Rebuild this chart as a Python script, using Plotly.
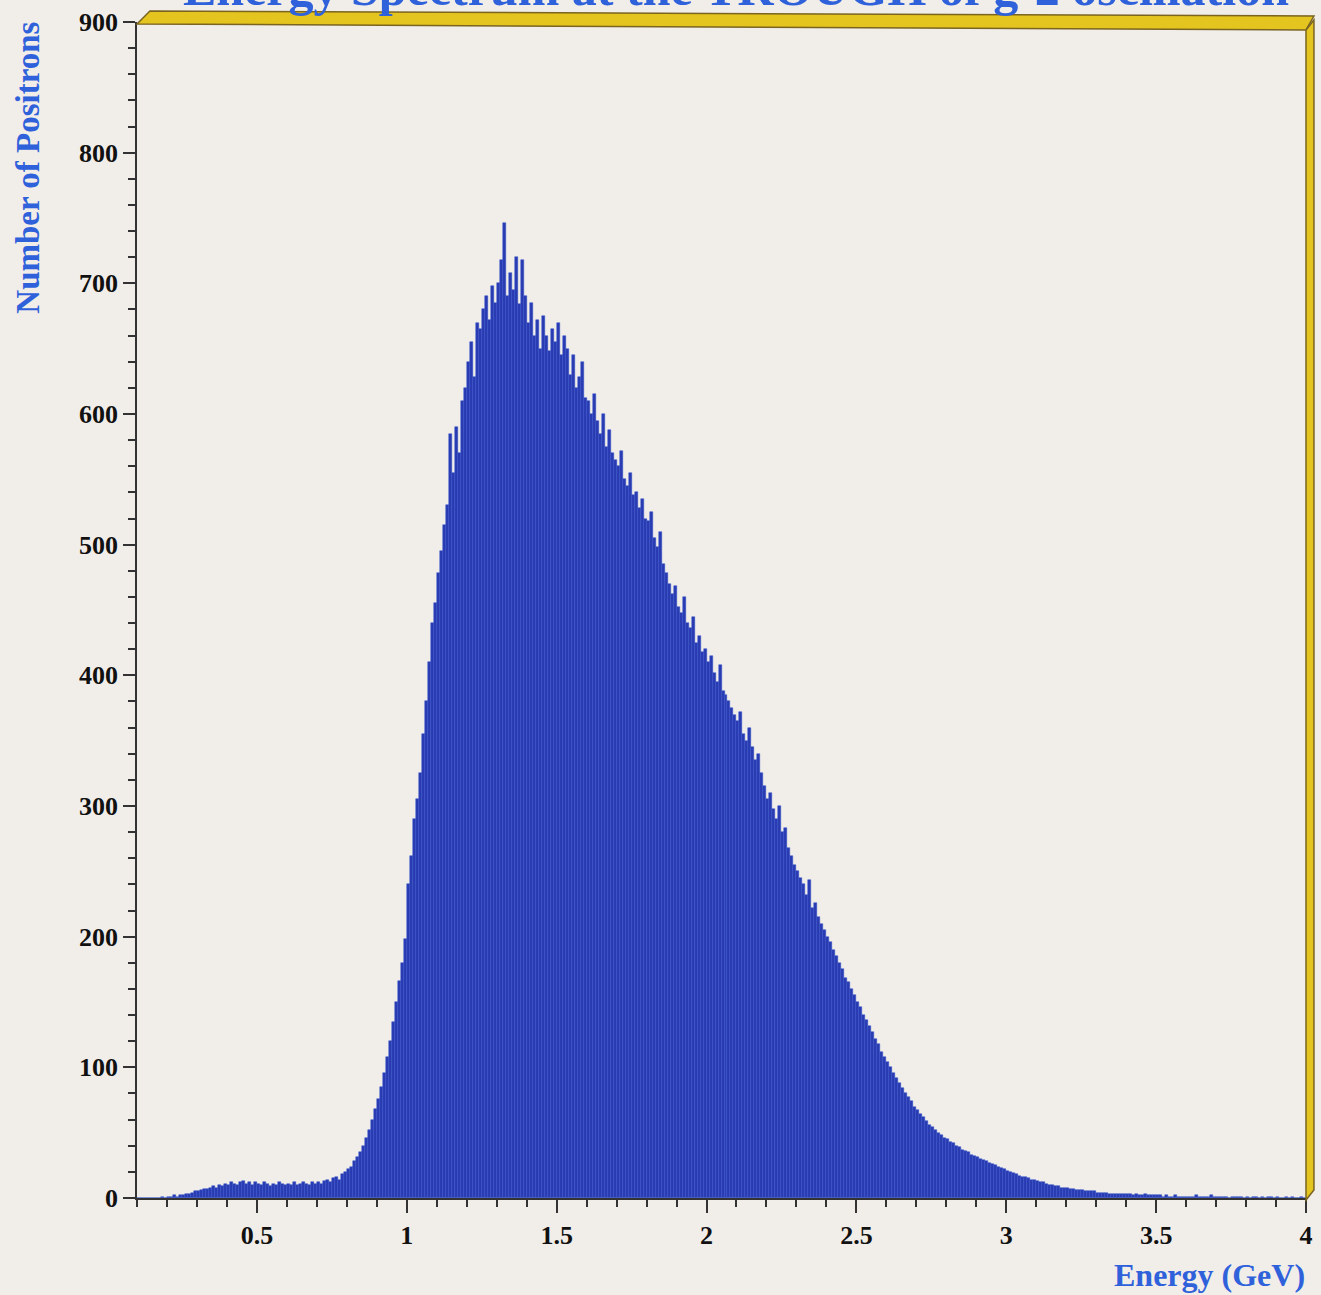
import plotly.graph_objects as go

# ---------------- data ----------------
bin_width = 0.01
x_start = 0.10  # left edge of first bin (GeV)

counts_010_099 = [
    0, 0, 0, 0, 0, 0, 0, 0, 1, 0,            # 0.10-0.19
    1, 1, 2, 1, 2, 2, 3, 3, 4, 5,            # 0.20-0.29
    5, 6, 7, 7, 8, 9, 8, 10, 9, 11,          # 0.30-0.39
    10, 12, 11, 10, 12, 13, 11, 12, 10, 12,  # 0.40-0.49
    11, 10, 12, 11, 9, 11, 10, 12, 11, 10,   # 0.50-0.59
    11, 10, 12, 10, 11, 12, 11, 10, 12, 11,  # 0.60-0.69
    12, 11, 13, 14, 12, 15, 16, 14, 18, 20,  # 0.70-0.79
    22, 24, 28, 31, 35, 40, 46, 52, 60, 68,  # 0.80-0.89
    76, 85, 96, 108, 120, 135, 150, 166, 180, 198,  # 0.90-0.99
]
counts_100_199 = [
    240, 262, 290, 305, 325, 355, 380, 410, 440, 455,  # 1.00-1.09
    478, 495, 515, 530, 585, 555, 590, 570, 610, 620,  # 1.10-1.19
    640, 655, 628, 670, 665, 680, 690, 672, 698, 685,  # 1.20-1.29
    700, 718, 746, 690, 708, 695, 720, 684, 718, 690,  # 1.30-1.39
    670, 685, 660, 672, 650, 675, 660, 648, 665, 655,  # 1.40-1.49
    670, 645, 660, 650, 630, 645, 620, 628, 640, 612,  # 1.50-1.59
    610, 600, 615, 595, 585, 600, 575, 588, 570, 565,  # 1.60-1.69
    560, 572, 550, 545, 555, 538, 540, 528, 535, 520,  # 1.70-1.79
    518, 525, 505, 498, 510, 485, 478, 470, 462, 468,  # 1.80-1.89
    452, 448, 460, 440, 436, 445, 425, 430, 418, 420,  # 1.90-1.99
]
counts_200_299 = [
    410, 415, 402, 395, 408, 388, 385, 380, 375, 370,  # 2.00-2.09
    365, 372, 355, 350, 360, 345, 335, 340, 325, 315,  # 2.10-2.19
    305, 310, 298, 290, 300, 280, 283, 268, 262, 255,  # 2.20-2.29
    250, 245, 240, 232, 243, 222, 226, 215, 210, 205,  # 2.30-2.39
    200, 196, 190, 185, 180, 175, 168, 165, 160, 155,  # 2.40-2.49
    150, 146, 140, 136, 132, 127, 122, 118, 112, 108,  # 2.50-2.59
    104, 100, 96, 92, 88, 84, 80, 77, 74, 70,          # 2.60-2.69
    67, 64, 62, 59, 56, 54, 52, 50, 48, 46,            # 2.70-2.79
    45, 43, 42, 40, 39, 37, 36, 35, 33, 32,            # 2.80-2.89
    31, 30, 29, 28, 27, 26, 25, 24, 23, 22,            # 2.90-2.99
]
counts_300_399 = [
    21, 20, 19, 18, 17, 16, 16, 15, 14, 14,  # 3.00-3.09
    13, 12, 12, 11, 10, 10, 9, 9, 8, 8,      # 3.10-3.19
    8, 7, 7, 6, 6, 6, 5, 5, 5, 5,            # 3.20-3.29
    4, 4, 4, 4, 3, 3, 3, 3, 3, 3,            # 3.30-3.39
    3, 3, 2, 3, 2, 2, 3, 2, 2, 2,            # 3.40-3.49
    2, 2, 1, 2, 1, 1, 2, 1, 1, 1,            # 3.50-3.59
    1, 1, 1, 2, 1, 1, 1, 1, 2, 1,            # 3.60-3.69
    1, 1, 1, 1, 0, 1, 1, 1, 1, 0,            # 3.70-3.79
    1, 0, 1, 1, 0, 1, 0, 1, 1, 0,            # 3.80-3.89
    1, 0, 0, 1, 0, 1, 0, 0, 1, 0,            # 3.90-3.99
]
x_tick_vals = [0.5, 1, 1.5, 2, 2.5, 3, 3.5, 4]
x_tick_text = ["0.5", "1", "1.5", "2", "2.5", "3", "3.5", "4"]

title_text = "Energy Spectrum at the TROUGH of g-2 oscillation"
x_title = "Energy (GeV)"
y_title = "Number of Positrons"

# ---------------- figure ----------------
counts = counts_010_099 + counts_100_199 + counts_200_299 + counts_300_399
centers = [round(x_start + bin_width * (i + 0.5), 4) for i in range(len(counts))]

W, H = 1321, 1295
L, R, T, B = 137, 8, 20, 97
pw = W - L - R
ph = H - T - B


def px(x):
    return (x - L) / pw


def py(y):
    return (H - B - y) / ph


bar_color = "#2A3BB2"
blue_text = "#2F62DA"
bg = "#F1EEEA"

fig = go.Figure()
fig.add_trace(go.Bar(
    x=centers, y=counts, width=bin_width,
    marker=dict(color=bar_color, line=dict(color="#3350C8", width=0.5)),
    hoverinfo="x+y",
))

axis_font = dict(family="Liberation Serif", size=26, color="#111111", weight="bold")

fig.update_layout(
    width=W, height=H,
    margin=dict(l=L, r=R, t=T, b=B, pad=0),
    paper_bgcolor=bg, plot_bgcolor=bg,
    bargap=0, showlegend=False,
    font=dict(family="Liberation Serif"),
    xaxis=dict(
        range=[0.1, 4.0], tickvals=x_tick_vals, ticktext=x_tick_text,
        ticks="outside", ticklen=13, tickwidth=1.5, tickcolor="#333333",
        minor=dict(dtick=0.1, tick0=0.1, ticks="outside", ticklen=7,
                   tickwidth=1.5, tickcolor="#333333", showgrid=False),
        showgrid=False, zeroline=False, showline=True, linecolor="#333333",
        linewidth=1.5, tickfont=axis_font,
    ),
    yaxis=dict(
        range=[0, 900], dtick=100, tick0=0,
        ticks="outside", ticklen=12, tickwidth=1.5, tickcolor="#333333",
        minor=dict(dtick=20, ticks="outside", ticklen=7, tickwidth=1.5,
                   tickcolor="#333333", showgrid=False),
        showgrid=False, zeroline=False, showline=True, linecolor="#333333",
        linewidth=1.5, tickfont=axis_font,
    ),
)

# title (cut off at the top of the page as in the reference)
fig.add_annotation(text=f"<b>{title_text}</b>", xref="paper", yref="paper",
                   x=px(740), y=py(16), xanchor="center", yanchor="bottom",
                   showarrow=False,
                   font=dict(family="Liberation Serif", size=50, color=blue_text))

# yellow 3-D frame (top and right faces)
top_face = (f"M {px(137)} {py(22)} L {px(150)} {py(9)} L {px(1321)} {py(14)} "
            f"L {px(1313)} {py(28)} Z")
right_face = (f"M {px(1313)} {py(28)} L {px(1321)} {py(18)} L {px(1321)} {py(1190)} "
              f"L {px(1313)} {py(1200)} Z")
for path in (top_face, right_face):
    fig.add_shape(type="path", path=path, xref="paper", yref="paper",
                  fillcolor="#E4C41E", line=dict(color="#7A6420", width=1.5),
                  layer="above")

fig.add_annotation(text=f"<b>{y_title}</b>", xref="paper", yref="paper",
                   x=px(27), y=py(18), xanchor="center", yanchor="top",
                   textangle=-90, showarrow=False,
                   font=dict(family="Liberation Serif", size=33, color=blue_text))
fig.add_annotation(text=f"<b>{x_title}</b>", xref="paper", yref="paper",
                   x=px(1314), y=py(1275), xanchor="right", yanchor="middle",
                   showarrow=False,
                   font=dict(family="Liberation Serif", size=32, color=blue_text))

fig.write_html("out.html")
